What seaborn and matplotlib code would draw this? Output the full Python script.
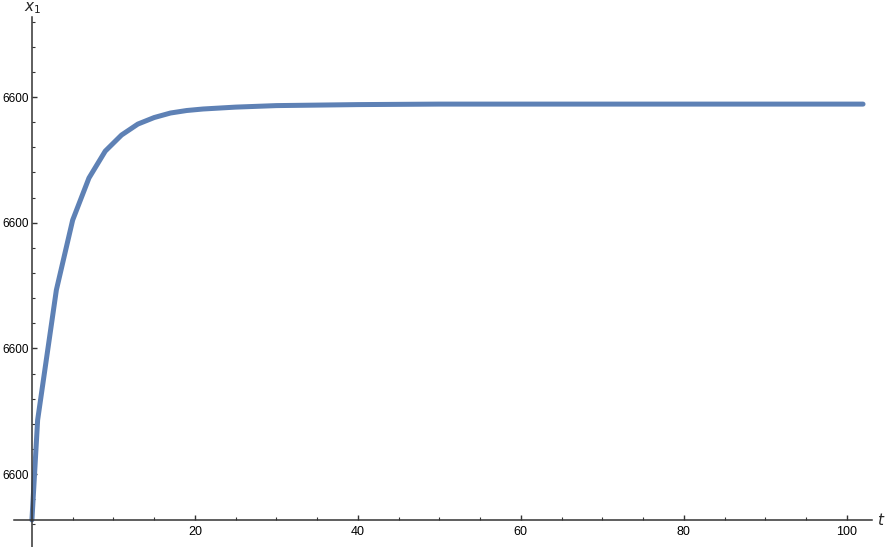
import numpy as np
import pandas as pd
import matplotlib
matplotlib.use('Agg')
import matplotlib.pyplot as plt
import seaborn as sns

# valores (x1 en unidades relativas; todas las marcas dicen 6600)
t = [0, 0.7, 3, 5, 7, 9, 11, 13, 15, 17, 19, 21, 25, 30, 40, 50, 60, 80, 102]
x1 = [0.635, 1.43, 2.465, 3.021, 3.356, 3.570, 3.698, 3.785, 3.837, 3.873,
      3.893, 3.905, 3.920, 3.932, 3.940, 3.944, 3.944, 3.944, 3.944]
yticks = [1, 2, 3, 4]
ytick_labels = ['6600', '6600', '6600', '6600']
xticks = [20, 40, 60, 80, 100]

df = pd.DataFrame({'t': t, 'x1': x1})

sns.set_style('white')
plt.rcParams['font.family'] = ['Liberation Sans', 'DejaVu Sans']

W, H = 886, 547
fig = plt.figure(figsize=(W / 100, H / 100), dpi=100)
ax = fig.add_axes([14 / W, 0, (872 - 14) / W, (H - 17) / H])

sns.lineplot(data=df, x='t', y='x1', ax=ax, color='#5E81B5', linewidth=3.6)

ax.set_xlim(-2.2, 103.1)
ax.set_ylim(0.42, 4.637)

# ejes tipo Mathematica
ax.spines['top'].set_visible(False)
ax.spines['right'].set_visible(False)
ax.spines['left'].set_position(('data', 0))
ax.spines['bottom'].set_position(('data', x1[0]))
for s in ['left', 'bottom']:
    ax.spines[s].set_color('#333333')
    ax.spines[s].set_linewidth(1.1)

ax.set_xticks(xticks)
ax.set_xticks(np.arange(5, 105, 5), minor=True)
ax.set_yticks(yticks)
ax.set_yticklabels(ytick_labels)
ax.set_yticks(np.arange(0.6, 4.7, 0.2), minor=True)

ax.tick_params(axis='both', which='major', direction='in', length=3.5, width=1,
               color='#333333', labelsize=9, labelcolor='black', pad=4)
ax.tick_params(axis='y', which='major', labelsize=8.5, pad=2.5)
ax.tick_params(axis='both', which='minor', direction='in', length=2, width=0.8,
               color='#333333')
ax.tick_params(axis='y', which='both', direction='in', left=True)
ax.tick_params(axis='x', which='both', bottom=True)

ax.set_xlabel('')
ax.set_ylabel('')
fig.text(885 / W, 1 - 520 / H, r'$t$', fontsize=11, ha='right', va='center')
fig.text(33 / W, 1 - 8 / H, r'$x_1$', fontsize=11, ha='center', va='center')

plt.savefig('out.png', dpi=100)
